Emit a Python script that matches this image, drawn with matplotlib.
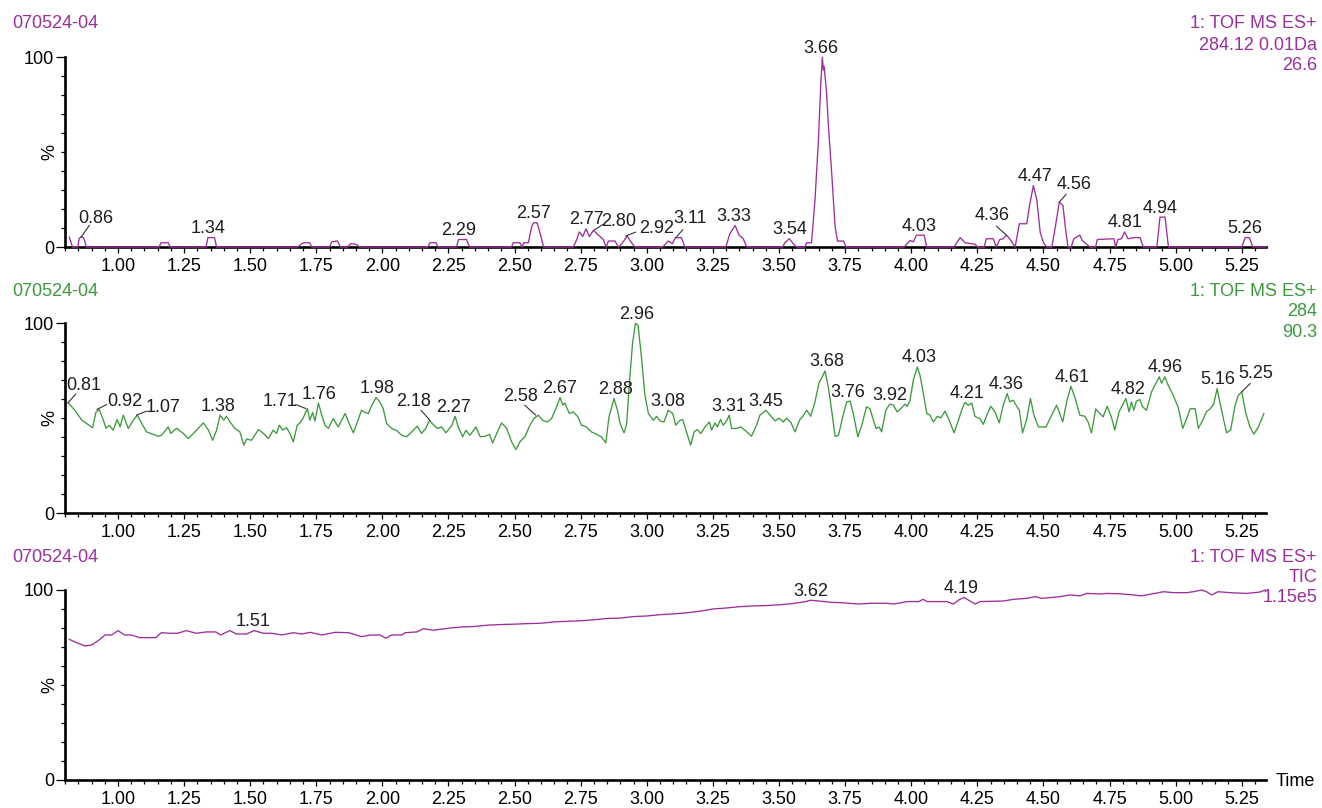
import matplotlib
matplotlib.use("Agg")
import matplotlib.pyplot as plt
import numpy as np
from matplotlib.ticker import MultipleLocator, FixedLocator, FormatStrFormatter

plt.rcParams["font.family"] = ["Liberation Sans", "DejaVu Sans"]

SAMPLE = "070524-04"

# --- trace 1: XIC 284.12 +/- 0.01 Da (max 26.6) ---
xic_t = [0.816, 0.828, 0.848, 0.853, 0.858, 0.868, 0.874, 0.880,
         1.155, 1.163, 1.190, 1.198,
         1.333, 1.340, 1.365, 1.373,
         1.680, 1.695, 1.705, 1.725, 1.733,
         1.800, 1.808, 1.830, 1.842,
         1.868, 1.880, 1.900, 1.915,
         2.172, 2.180, 2.203, 2.210,
         2.280, 2.288, 2.318, 2.330,
         2.488, 2.495, 2.520, 2.528, 2.535, 2.552, 2.565, 2.572, 2.585, 2.595, 2.610,
         2.722, 2.735, 2.745, 2.758, 2.770, 2.783, 2.798, 2.817, 2.836, 2.846,
         2.855, 2.880, 2.893, 2.906, 2.926, 2.939, 2.955,
         3.060, 3.081, 3.097, 3.108, 3.131, 3.144,
         3.299, 3.314, 3.334, 3.349, 3.365, 3.378,
         3.514, 3.522, 3.539, 3.554, 3.567,
         3.598, 3.604, 3.623, 3.636, 3.649, 3.658, 3.664, 3.668, 3.671, 3.680,
         3.687, 3.700, 3.712, 3.721, 3.744, 3.754,
         3.973, 3.996, 4.008, 4.020, 4.049, 4.059,
         4.162, 4.185, 4.204, 4.242, 4.251,
         4.276, 4.284, 4.310, 4.322, 4.335, 4.348, 4.361, 4.377, 4.393,
         4.409, 4.437, 4.447, 4.462, 4.475, 4.488, 4.500, 4.513, 4.532,
         4.545, 4.560, 4.574, 4.583, 4.593, 4.605, 4.615, 4.638, 4.647, 4.676,
         4.697, 4.704, 4.767, 4.773, 4.782, 4.795, 4.807, 4.820, 4.843, 4.866, 4.878,
         4.929, 4.941, 4.960, 4.973,
         5.250, 5.263, 5.279, 5.292, 5.340]
xic_v = [5.2, 0, 0, 4.5, 5.2, 5.2, 3.5, 0,
         0, 2.3, 2.3, 0,
         0, 5.0, 5.0, 0,
         0, 1.8, 2.3, 2.3, 0,
         0, 2.8, 3.2, 0,
         0, 1.8, 1.5, 0,
         0, 2.3, 2.3, 0,
         0, 4.0, 4.0, 0,
         0, 2.3, 2.3, 0, 2.3, 2.3, 11.0, 12.8, 12.8, 8.0, 0,
         0, 4.0, 8.0, 5.6, 9.6, 5.6, 8.8, 6.3, 4.0, 0,
         3.2, 3.2, 0, 1.9, 5.8, 3.0, 0,
         0, 3.2, 1.8, 5.0, 5.0, 0,
         0, 7.0, 11.4, 6.3, 4.4, 0,
         0, 2.3, 4.4, 1.8, 0,
         0, 2.3, 2.3, 24.6, 56.0, 85.8, 100.0, 93.3, 95.0, 81.0,
         63.7, 37.5, 11.2, 3.2, 3.2, 0,
         0, 3.5, 2.8, 6.3, 6.3, 0,
         0, 5.0, 2.3, 1.5, 0,
         0, 4.4, 4.4, 0, 4.0, 4.4, 6.3, 3.5, 0,
         12.3, 12.3, 21.4, 32.4, 25.0, 7.7, 2.3, 0, 0,
         10.5, 23.7, 22.0, 10.5, 0, 0, 4.4, 6.3, 3.5, 0,
         0, 4.0, 4.4, 0, 4.0, 4.4, 8.0, 4.4, 5.0, 5.0, 0,
         0, 15.8, 15.8, 0,
         0, 5.0, 5.0, 0, 0]
xic_labels = ["0.86", "1.34", "2.29", "2.57", "2.77", "2.80", "2.92", "3.11",
              "3.33", "3.54", "3.66", "4.03", "4.36", "4.47", "4.56", "4.81",
              "4.94", "5.26"]

# --- trace 2: XIC 284 (max 90.3) ---
nom_t = [0.812, 0.837, 0.863, 0.904, 0.917, 0.929, 0.942, 0.955, 0.967, 0.982,
         0.997, 1.008, 1.020, 1.039, 1.058, 1.073, 1.090, 1.108, 1.152, 1.165,
         1.190, 1.200, 1.222, 1.247, 1.266, 1.291, 1.323, 1.342, 1.358, 1.373,
         1.386, 1.400, 1.410, 1.424, 1.442, 1.461, 1.476, 1.487, 1.505, 1.531,
         1.550, 1.569, 1.587, 1.600, 1.610, 1.623, 1.638, 1.650, 1.663, 1.678,
         1.688, 1.700, 1.716, 1.726, 1.736, 1.745, 1.758, 1.770, 1.783, 1.796,
         1.814, 1.833, 1.859, 1.872, 1.890, 1.908, 1.921, 1.935, 1.947, 1.960,
         1.976, 1.990, 2.003, 2.016, 2.035, 2.054, 2.073, 2.092, 2.111, 2.132,
         2.148, 2.164, 2.178, 2.190, 2.208, 2.224, 2.240, 2.262, 2.275, 2.288,
         2.304, 2.316, 2.331, 2.354, 2.370, 2.388, 2.405, 2.417, 2.435, 2.451,
         2.470, 2.489, 2.505, 2.520, 2.539, 2.558, 2.573, 2.590, 2.606, 2.624,
         2.640, 2.659, 2.672, 2.682, 2.690, 2.707, 2.722, 2.740, 2.753, 2.772,
         2.790, 2.809, 2.828, 2.845, 2.857, 2.876, 2.889, 2.899, 2.914, 2.924,
         2.934, 2.946, 2.957, 2.967, 2.981, 2.993, 3.006, 3.025, 3.037, 3.050,
         3.065, 3.081, 3.098, 3.110, 3.123, 3.136, 3.148, 3.166, 3.179, 3.191,
         3.204, 3.220, 3.237, 3.245, 3.258, 3.267, 3.279, 3.289, 3.302, 3.312,
         3.321, 3.340, 3.355, 3.371, 3.396, 3.415, 3.428, 3.440, 3.450, 3.466,
         3.485, 3.501, 3.516, 3.529, 3.544, 3.561, 3.578, 3.590, 3.605, 3.620,
         3.636, 3.652, 3.661, 3.674, 3.687, 3.700, 3.712, 3.725, 3.741, 3.756,
         3.769, 3.781, 3.798, 3.813, 3.831, 3.844, 3.857, 3.867, 3.879, 3.888,
         3.904, 3.919, 3.932, 3.947, 3.964, 3.976, 3.985, 3.995, 4.008, 4.023,
         4.033, 4.046, 4.059, 4.071, 4.084, 4.099, 4.112, 4.128, 4.145, 4.162,
         4.179, 4.190, 4.203, 4.216, 4.229, 4.241, 4.260, 4.273, 4.286, 4.301,
         4.317, 4.333, 4.348, 4.363, 4.373, 4.386, 4.399, 4.409, 4.421, 4.436,
         4.451, 4.464, 4.481, 4.510, 4.531, 4.550, 4.562, 4.573, 4.588, 4.604,
         4.619, 4.638, 4.657, 4.669, 4.682, 4.698, 4.711, 4.726, 4.741, 4.757,
         4.770, 4.786, 4.799, 4.812, 4.824, 4.833, 4.842, 4.852, 4.865, 4.875,
         4.890, 4.909, 4.928, 4.938, 4.947, 4.959, 4.972, 4.991, 5.010, 5.027,
         5.042, 5.055, 5.074, 5.086, 5.103, 5.116, 5.131, 5.144, 5.157, 5.170,
         5.182, 5.193, 5.208, 5.225, 5.237, 5.250, 5.266, 5.281, 5.296, 5.313,
         5.334]
nom_v = [58.0, 54.2, 49.0, 45.0, 53.3, 54.6, 50.0, 44.7, 46.3, 43.7,
         49.3, 45.4, 51.6, 44.6, 49.0, 51.6, 47.2, 42.8, 40.5, 41.0,
         45.4, 42.0, 44.7, 42.0, 39.3, 42.8, 47.5, 43.7, 38.4, 43.7,
         51.6, 49.0, 51.0, 48.0, 44.6, 42.8, 35.8, 39.0, 38.4, 44.0,
         42.0, 39.3, 43.7, 42.0, 46.3, 43.7, 45.0, 42.0, 37.5, 46.3,
         47.5, 50.0, 55.1, 49.0, 53.0, 48.5, 58.0, 52.0, 46.3, 44.6,
         49.8, 45.4, 52.5, 48.0, 42.3, 48.9, 54.2, 53.0, 52.5, 56.8,
         60.9, 58.6, 55.1, 47.2, 44.6, 43.5, 41.0, 40.2, 42.8, 45.8,
         42.0, 44.6, 48.9, 47.0, 44.6, 45.4, 42.3, 46.0, 51.0, 45.0,
         40.2, 43.6, 41.0, 45.4, 40.2, 40.5, 41.5, 37.0, 42.8, 47.5,
         44.6, 37.5, 33.5, 37.5, 40.3, 46.3, 49.8, 51.6, 48.9, 48.0,
         49.8, 56.0, 60.9, 57.0, 58.0, 52.5, 53.3, 50.7, 46.3, 45.4,
         42.8, 41.6, 40.2, 37.0, 50.7, 60.4, 54.2, 47.2, 42.3, 47.0,
         68.3, 89.3, 100.0, 99.0, 80.5, 62.1, 52.5, 48.9, 51.0, 48.5,
         48.0, 54.2, 52.5, 46.3, 48.6, 49.3, 43.7, 35.8, 42.8, 44.0,
         41.9, 45.4, 48.0, 43.7, 47.5, 45.4, 49.3, 46.3, 48.6, 51.6,
         44.6, 44.6, 45.4, 43.7, 40.5, 46.3, 51.6, 52.8, 54.2, 51.6,
         48.6, 50.0, 48.0, 50.0, 48.0, 42.8, 49.0, 51.0, 54.2, 51.0,
         58.6, 69.0, 71.0, 74.9, 66.0, 53.3, 40.5, 41.0, 50.7, 58.6,
         59.0, 52.5, 40.2, 46.3, 56.0, 55.0, 49.0, 44.6, 45.4, 42.8,
         54.2, 57.4, 57.0, 53.3, 55.5, 57.4, 56.3, 59.0, 70.0, 77.0,
         72.8, 63.0, 52.5, 51.6, 48.0, 51.0, 50.2, 53.7, 48.6, 42.3,
         49.0, 54.0, 58.3, 56.8, 58.0, 51.0, 49.8, 46.8, 51.6, 56.3,
         53.3, 47.5, 56.8, 63.0, 58.6, 59.5, 56.3, 54.2, 42.3, 49.0,
         60.4, 51.6, 45.4, 45.4, 51.6, 56.8, 52.5, 48.0, 58.6, 66.8,
         61.0, 51.6, 51.0, 48.0, 42.3, 54.9, 52.8, 50.7, 56.3, 50.7,
         43.7, 53.3, 56.8, 60.4, 53.3, 58.6, 54.2, 59.0, 59.8, 56.0,
         54.2, 63.9, 69.0, 71.8, 68.4, 71.8, 67.4, 62.1, 55.6, 44.6,
         49.8, 55.0, 55.0, 44.6, 49.0, 53.3, 55.0, 57.4, 65.6, 56.8,
         49.0, 42.3, 43.7, 56.8, 62.0, 63.9, 52.5, 45.4, 41.6, 45.4,
         52.5]
nom_labels = ["0.81", "0.92", "1.07", "1.38", "1.71", "1.76", "1.98", "2.18",
              "2.27", "2.58", "2.67", "2.88", "2.96", "3.08", "3.31", "3.45",
              "3.68", "3.76", "3.92", "4.03", "4.21", "4.36", "4.61", "4.82",
              "4.96", "5.16", "5.25"]

# --- trace 3: TIC (max 1.15e5) ---
tic_t = [0.816, 0.843, 0.875, 0.900, 0.925, 0.951, 0.976, 1.000, 1.025, 1.050,
         1.082, 1.143, 1.164, 1.195, 1.226, 1.258, 1.296, 1.334, 1.370, 1.388,
         1.423, 1.448, 1.486, 1.514, 1.550, 1.581, 1.619, 1.663, 1.695, 1.727,
         1.771, 1.821, 1.872, 1.922, 1.953, 1.991, 2.013, 2.035, 2.073, 2.086,
         2.130, 2.155, 2.193, 2.218, 2.26, 2.30, 2.35, 2.40, 2.45, 2.50,
         2.55, 2.60, 2.65, 2.70, 2.75, 2.80, 2.85, 2.90, 2.95, 3.00,
         3.05, 3.10, 3.15, 3.20, 3.25, 3.30, 3.35, 3.40, 3.45, 3.50,
         3.55, 3.60, 3.62, 3.65, 3.70, 3.75, 3.80, 3.85, 3.910, 3.935,
         3.985, 4.029, 4.045, 4.060, 4.085, 4.135, 4.160, 4.179, 4.200, 4.220,
         4.242, 4.261, 4.349, 4.387, 4.437, 4.469, 4.494, 4.564, 4.601, 4.639,
         4.664, 4.715, 4.740, 4.790, 4.840, 4.872, 4.910, 4.954, 4.992, 5.042,
         5.067, 5.098, 5.117, 5.136, 5.161, 5.205, 5.268, 5.318, 5.340]
tic_v = [74.0, 72.3, 70.5, 71.0, 73.3, 76.3, 76.3, 78.6, 76.3, 76.3,
         74.9, 74.9, 77.5, 77.2, 77.2, 78.6, 77.2, 77.9, 77.9, 76.3,
         78.6, 76.8, 76.8, 78.6, 77.2, 77.2, 76.3, 77.5, 76.8, 77.7,
         76.3, 77.7, 77.5, 75.4, 76.3, 76.3, 74.6, 76.3, 76.3, 77.5,
         77.9, 79.6, 78.8, 79.3, 80.0, 80.5, 80.8, 81.5, 81.8, 82.0,
         82.3, 82.5, 83.2, 83.5, 83.8, 84.3, 85.0, 85.2, 86.0, 86.3,
         87.0, 87.4, 88.0, 88.8, 90.0, 90.5, 91.2, 91.6, 91.8, 92.2,
         92.8, 93.9, 94.6, 94.2, 93.5, 93.2, 92.6, 93.0, 93.0, 92.6,
         93.9, 93.9, 95.1, 93.9, 93.9, 93.9, 92.6, 94.7, 96.1, 94.4,
         92.6, 93.9, 94.2, 95.1, 95.6, 96.5, 95.6, 96.5, 97.4, 96.9,
         98.2, 97.9, 98.2, 98.0, 97.4, 96.9, 97.9, 99.1, 98.6, 98.6,
         99.1, 100.0, 99.1, 97.4, 99.1, 98.6, 98.2, 98.9, 100.0]
tic_labels = ["1.51", "3.62", "4.19"]

# labels drawn off the peak with a leader: text (dx, dy) and leader end (lx, ly), pixels
LEADERS = {
    0: {"0.86": (15, 14, 8.5, 12), "2.80": (25, 4, 9, 6), "2.92": (31, 3.3, 10, 4),
        "3.11": (14, 15, 7, 8), "4.36": (-14, 15, -10, 9), "4.56": (15, 13, 7, 8)},
    1: {"0.81": (16, 13, 8, 9), "0.92": (28, 3, 10, 5), "1.07": (27, 3.3, 10, 4),
        "1.71": (-26, 2.7, -10, 4), "2.18": (-16, 14, -9, 10), "2.58": (-15, 14, -11, 10),
        "5.25": (14, 14, 8.6, 8.4)},
    2: {},
}

PURPLE = "#9c2f9c"
GREEN = "#3c9a3c"
W, H = 1322.0, 808.0
PX = 72.0 / 100.0  # pixel -> points

fig = plt.figure(figsize=(W / 100, H / 100), dpi=100)

panels = [
    dict(top=57.3, t=xic_t, v=xic_v, color=PURPLE, labels=xic_labels,
         head=["1: TOF MS ES+", "284.12 0.01Da", "26.6"], hy=[24, 45, 66], sy=24),
    dict(top=323.3, t=nom_t, v=nom_v, color=GREEN, labels=nom_labels,
         head=["1: TOF MS ES+", "284", "90.3"], hy=[291, 312, 332.5], sy=291),
    dict(top=590.0, t=tic_t, v=tic_v, color=PURPLE, labels=tic_labels,
         head=["1: TOF MS ES+", "TIC", "1.15e5"], hy=[557.5, 578, 598], sy=558),
]

left_px, width_px, height_px = 65.1, 1200.4, 189.8
FS = 13

for i, p in enumerate(panels):
    ax = fig.add_axes([left_px / W, 1 - (p["top"] + height_px) / H,
                       width_px / W, height_px / H])
    t = np.array(p["t"])
    v = np.array(p["v"])
    ax.plot(t, v, color=p["color"], lw=0.95, zorder=3, clip_on=False)
    ax.set_xlim(0.80, 5.34)
    ax.set_ylim(0, 100)

    for s in ("top", "right"):
        ax.spines[s].set_visible(False)
    for s in ("left", "bottom"):
        ax.spines[s].set_linewidth(1.9)
        ax.spines[s].set_color("black")

    ax.xaxis.set_major_locator(MultipleLocator(0.25))
    ax.xaxis.set_minor_locator(MultipleLocator(0.05))
    ax.xaxis.set_major_formatter(FormatStrFormatter("%.2f"))
    ax.yaxis.set_major_locator(FixedLocator([0, 100]))
    ax.yaxis.set_minor_locator(MultipleLocator(10))
    ax.tick_params(axis="x", which="major", length=4, width=0.9, pad=4,
                   labelsize=FS, colors="black")
    ax.tick_params(axis="x", which="minor", length=3, width=0.9)
    ax.tick_params(axis="y", which="major", length=6.5, width=0.9, pad=1.5,
                   labelsize=FS, colors="black")
    ax.tick_params(axis="y", which="minor", length=3, width=0.9)
    ax.text(-0.0125, 0.5, "%", transform=ax.transAxes, rotation=90,
            ha="center", va="center", fontsize=FS)

    # peak labels
    for lab in p["labels"]:
        x0 = float(lab)
        near = (t >= x0 - 0.01) & (t <= x0 + 0.01)
        y0 = v[near].max() if near.any() else np.interp(x0, t, v)
        lead = LEADERS[i].get(lab)
        if lead is None:
            ax.annotate(lab, xy=(x0, y0), xytext=(0, 4.5 * PX),
                        textcoords="offset points", ha="center", va="baseline",
                        fontsize=FS, color="#1e1e1e", annotation_clip=False)
        else:
            dx, dy, lx, ly = lead
            ax.annotate(lab, xy=(x0, y0), xytext=(dx * PX, dy * PX),
                        textcoords="offset points", ha="center", va="baseline",
                        fontsize=FS, color="#1e1e1e", annotation_clip=False)
            ax.annotate("", xy=(x0, y0), xytext=(lx * PX, ly * PX),
                        textcoords="offset points", annotation_clip=False,
                        arrowprops=dict(arrowstyle="-", lw=0.8, color="#333333",
                                        shrinkA=0, shrinkB=0))

    # headers
    fig.text(12 / W, 1 - p["sy"] / H, SAMPLE, ha="left", va="center",
             fontsize=FS, color=p["color"])
    for line, yy in zip(p["head"], p["hy"]):
        fig.text(1317 / W, 1 - yy / H, line, ha="right", va="center",
                 fontsize=FS, color=p["color"])

fig.text(1276 / W, 1 - 781 / H, "Time", ha="left", va="center", fontsize=FS,
         color="black")

fig.savefig("out.png", dpi=100)
